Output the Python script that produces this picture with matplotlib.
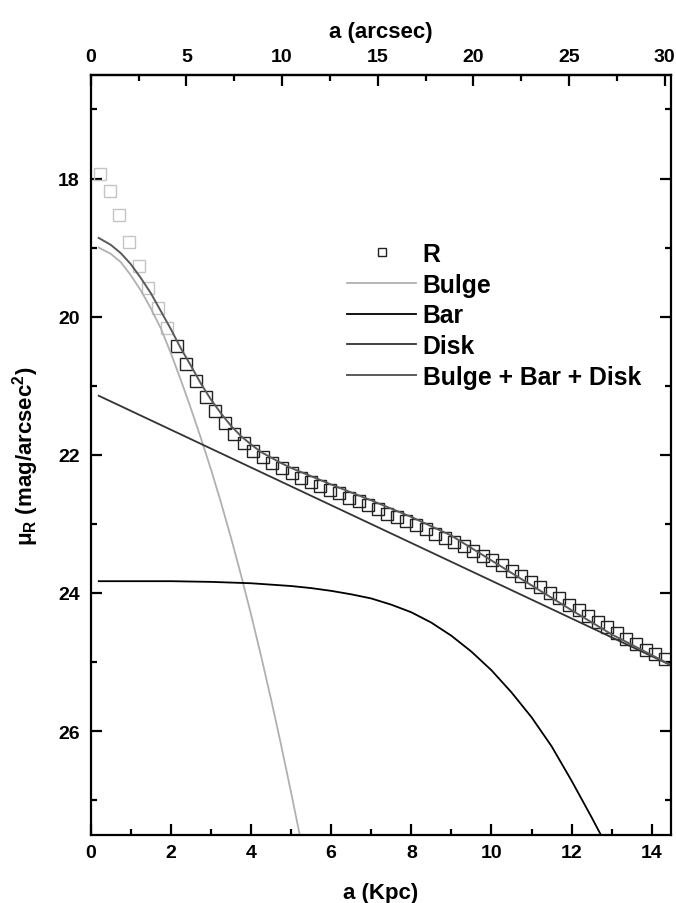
#
# Surface brightness profile with bulge / bar / disk decomposition
#

import numpy as np
import matplotlib.pyplot as plt
from matplotlib.ticker import MultipleLocator

plt.rcParams.update(
    {
        "font.family": "Liberation Sans",
        "font.weight": "bold",
        "axes.labelweight": "bold",
        "font.size": 14,
        "mathtext.fontset": "custom",
        "mathtext.rm": "Liberation Sans:bold",
        "mathtext.it": "Liberation Sans:bold",
        "mathtext.bf": "Liberation Sans:bold",
        "mathtext.default": "rm",
        "axes.linewidth": 1.6,
    }
)

KPC_PER_ARCSEC = 0.4774

# observed R-band profile, radius in arcsec
r_arcsec = [0.5, 1.0, 1.5, 2.0, 2.5, 3.0, 3.5, 4.0, 4.5, 5.0,
            5.5, 6.0, 6.5, 7.0, 7.5, 8.0, 8.5, 9.0, 9.5, 10.0,
            10.5, 11.0, 11.5, 12.0, 12.5, 13.0, 13.5, 14.0, 14.5, 15.0,
            15.5, 16.0, 16.5, 17.0, 17.5, 18.0, 18.5, 19.0, 19.5, 20.0,
            20.5, 21.0, 21.5, 22.0, 22.5, 23.0, 23.5, 24.0, 24.5, 25.0,
            25.5, 26.0, 26.5, 27.0, 27.5, 28.0, 28.5, 29.0, 29.5, 30.0]
mu_R = [17.94, 18.18, 18.53, 18.92, 19.27, 19.58, 19.88, 20.16, 20.42, 20.68,
        20.93, 21.16, 21.36, 21.54, 21.70, 21.83, 21.94, 22.03, 22.12, 22.19,
        22.26, 22.33, 22.39, 22.45, 22.51, 22.56, 22.62, 22.67, 22.73, 22.79,
        22.85, 22.90, 22.96, 23.02, 23.08, 23.14, 23.20, 23.26, 23.32, 23.39,
        23.46, 23.53, 23.60, 23.68, 23.76, 23.84, 23.92, 24.00, 24.08, 24.17,
        24.25, 24.33, 24.42, 24.50, 24.58, 24.67, 24.74, 24.82, 24.88, 24.96]
n_excluded = 8  # inner points not used in the fit (drawn in grey)

# model components, radius in kpc
bulge_r = [0.2, 0.5, 0.75, 1.0, 1.25, 1.5, 1.75, 2.0, 2.25, 2.5, 2.75, 3.0,
           3.25, 3.5, 3.75, 4.0, 4.25, 4.5, 4.75, 5.0, 5.25]
bulge_mu = [19.00, 19.09, 19.21, 19.40, 19.62, 19.88, 20.17, 20.53, 20.92, 21.33,
            21.76, 22.21, 22.69, 23.20, 23.74, 24.31, 24.91, 25.54, 26.20, 26.89, 27.60]

bar_r = [0.2, 1.0, 2.0, 3.0, 4.0, 5.0, 5.5, 6.0, 6.5, 7.0, 7.5, 8.0, 8.5, 9.0,
         9.5, 10.0, 10.5, 11.0, 11.5, 12.0, 12.5, 12.8]
bar_mu = [23.83, 23.83, 23.83, 23.84, 23.86, 23.90, 23.93, 23.97, 24.02, 24.08,
          24.17, 24.28, 24.43, 24.62, 24.85, 25.12, 25.44, 25.80, 26.22, 26.72,
          27.25, 27.58]

disk_r = [0.2, 14.5]
disk_mu = [21.145, 25.053]

total_r = [0.2, 0.5, 0.75, 1.0, 1.25, 1.5, 1.75, 2.0, 2.25, 2.5, 2.75, 3.0, 3.25,
           3.5, 3.75, 4.0, 4.25, 4.5, 4.75, 5.0, 5.5, 6.0, 7.0, 8.0, 9.0, 10.0,
           11.0, 12.0, 13.0, 14.0, 14.5]
total_mu = [18.86, 18.96, 19.08, 19.24, 19.44, 19.66, 19.92, 20.18, 20.46, 20.71,
            20.97, 21.20, 21.40, 21.58, 21.73, 21.85, 21.96, 22.04, 22.12, 22.19,
            22.31, 22.43, 22.66, 22.90, 23.17, 23.53, 23.89, 24.25, 24.60, 24.90,
            25.05]

r_kpc = np.array(r_arcsec) * KPC_PER_ARCSEC
mu_R = np.array(mu_R)

fig = plt.figure(figsize=(6.76, 9.04), dpi=100)
ax = fig.add_axes([0.1342, 0.0756, 0.8584, 0.8404])

ax.plot(r_kpc[:n_excluded], mu_R[:n_excluded], "s", ms=8.5, mfc="none",
        mec="#c4c4c4", mew=1.0)
ax.plot(r_kpc[n_excluded:], mu_R[n_excluded:], "s", ms=8.5, mfc="none",
        mec="#222222", mew=1.0, label="R")
ax.plot(bulge_r, bulge_mu, color="#b0b0b0", lw=1.3, label="Bulge")
ax.plot(bar_r, bar_mu, color="black", lw=1.3, label="Bar")
ax.plot(disk_r, disk_mu, color="#333333", lw=1.3, label="Disk")
ax.plot(total_r, total_mu, color="#5a5a5a", lw=1.4, label="Bulge + Bar + Disk")

ax.set_xlim(0, 14.48)
ax.set_ylim(27.5, 16.5)
ax.xaxis.set_major_locator(MultipleLocator(2))
ax.xaxis.set_minor_locator(MultipleLocator(1))
ax.yaxis.set_major_locator(MultipleLocator(2))
ax.yaxis.set_minor_locator(MultipleLocator(1))
ax.tick_params(which="both", direction="in", width=1.6, right=True, top=False,
               labelsize=14)
ax.tick_params(which="major", length=8)
ax.tick_params(which="minor", length=4.5)
ax.tick_params(axis="x", pad=7)
ax.tick_params(axis="y", pad=8)

ax.set_xlabel("a (Kpc)", fontsize=16, labelpad=15)
ax.set_ylabel(r"$\mu_R$ (mag/arcsec$^2$)", fontsize=16, labelpad=12)

secax = ax.secondary_xaxis(
    "top",
    functions=(lambda x: x / KPC_PER_ARCSEC, lambda x: x * KPC_PER_ARCSEC),
)
secax.xaxis.set_major_locator(MultipleLocator(5))
secax.xaxis.set_minor_locator(MultipleLocator(2.5))
secax.tick_params(which="both", direction="in", width=1.6, pad=7, labelsize=14)
secax.tick_params(which="major", length=8)
secax.tick_params(which="minor", length=4.5)
secax.set_xlabel("a (arcsec)", fontsize=16, labelpad=8)

ax.legend(loc="upper left", bbox_to_anchor=(0.412, 0.803), frameon=False,
          fontsize=17.8, handlelength=2.8, handletextpad=0.25,
          labelspacing=0.27, markerscale=0.75, borderaxespad=0.3)

fig.savefig("out.png", dpi=100)
